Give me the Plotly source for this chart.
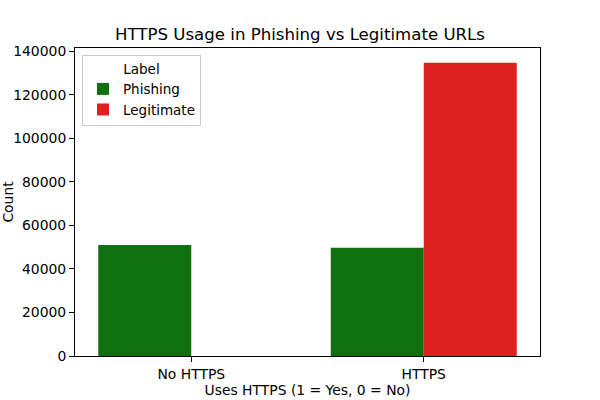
import plotly.graph_objects as go

categories = ["No HTTPS", "HTTPS"]
phishing = [51000, 49700]
legitimate = [0, 134700]
y_ticks = [0, 20000, 40000, 60000, 80000, 100000, 120000, 140000]

font = "DejaVu Sans"
fig = go.Figure()
fig.add_trace(go.Bar(x=categories, y=phishing, name="Phishing", marker=dict(color="#107010", line=dict(width=0))))
fig.add_trace(go.Bar(x=categories, y=legitimate, name="Legitimate", marker=dict(color="#df2020", line=dict(width=0))))

ymax = max(max(phishing), max(legitimate)) * 1.05
fig.update_layout(
    width=600, height=400,
    margin=dict(l=75, r=60, t=48, b=44, autoexpand=False),
    paper_bgcolor="white", plot_bgcolor="white",
    barmode="group", bargap=0.2, bargroupgap=0,
    font=dict(family=font, size=13, color="black"),
    title=dict(text="HTTPS Usage in Phishing vs Legitimate URLs", x=0.5, xanchor="center",
               y=1 - 34 / 400, yanchor="middle", font=dict(size=16.6, family=font, color="black")),
    showlegend=True,
    legend=dict(x=0.015, y=0.977, xanchor="left", yanchor="top",
                bgcolor="rgba(255,255,255,0.8)", bordercolor="#cccccc", borderwidth=1,
                title=dict(text="Label", side="top center", font=dict(size=13.5, family=font)),
                font=dict(size=13.5, family=font)),
    xaxis=dict(title=dict(text="Uses HTTPS (1 = Yes, 0 = No)", standoff=3, font=dict(size=13.9)),
               automargin=False,
               showline=True, linecolor="black", linewidth=1, mirror=True,
               ticks="outside", ticklen=5, tickcolor="black", tickfont=dict(size=13.9),
               showgrid=False, range=[-0.5, 1.5]),
    yaxis=dict(title=dict(text="Count", standoff=15, font=dict(size=13.9)),
               automargin=False,
               range=[0, ymax], tickvals=y_ticks, ticktext=[str(v) for v in y_ticks],
               showline=True, linecolor="black", linewidth=1, mirror=True,
               ticks="outside", ticklen=5, tickcolor="black", tickfont=dict(size=13.9),
               showgrid=False, zeroline=False),
)
fig.write_html("out.html")
